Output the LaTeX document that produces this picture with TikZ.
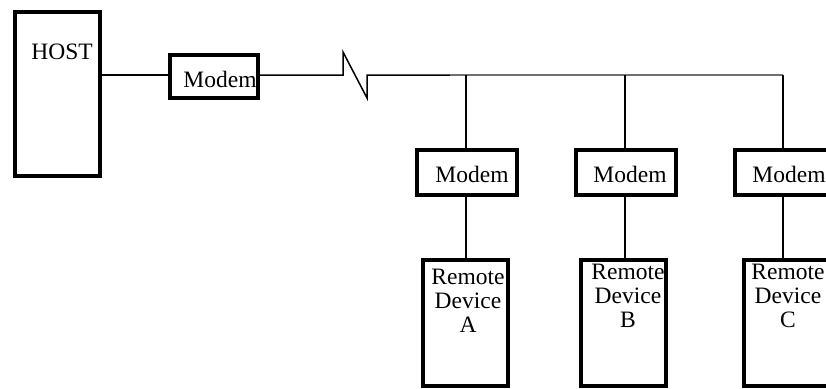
\documentclass[tikz,border=0pt]{standalone}
\usepackage{fontspec}
\setmainfont{Liberation Serif}
\usepackage{tikz}
\usetikzlibrary{calc}
\definecolor{wiregray}{HTML}{707070}
\tikzset{
  wire/.style={draw=black, line width=1.5pt},
  busline/.style={draw=wiregray, line width=1.5pt},
  box/.style={
    draw=black,
    line width=4pt,
    inner sep=0pt
  },
  lbl/.style={
    font=\fontsize{23.5}{24}\selectfont,
    inner sep=0pt,
    align=center
  }
}

\begin{document}
\begin{tikzpicture}[x=1pt,y=-1pt]
  \path[use as bounding box] (0,0) rectangle (826,388);
  \clip (0,0) rectangle (826,388);

  \node[box, minimum width=85pt, minimum height=164pt] (host) at (57.5,94) {};
  \node[lbl] (hostlbl) at (62,52) {HOST};
  \node[box, minimum width=88pt, minimum height=43pt] (modem) at (214,76.5) {};
  \node[lbl] (modemlbl) at (220,79) {Modem};

  \node[box, minimum width=100pt, minimum height=45pt] (modemA) at (467,172.5) {};
  \node[box, minimum width=100pt, minimum height=45pt] (modemB) at (626,172.5) {};
  \node[box, minimum width=100pt, minimum height=45pt] (modemC) at (785,172.5) {};
  \node[lbl] (modemAlbl) at (472,174) {Modem};
  \node[lbl] (modemBlbl) at (630,174) {Modem};
  \node[lbl] (modemClbl) at (789,174) {Modem};

  \node[box, minimum width=85pt, minimum height=126pt] (devA) at (465.5,323) {};
  \node[box, minimum width=85pt, minimum height=126pt] (devB) at (623.5,323) {};
  \node[box, minimum width=85pt, minimum height=126pt] (devC) at (786,323) {};
  \node[lbl, anchor=north] (devAlbl) at (468,269) {Remote\\Device\\A};
  \node[lbl, anchor=north] (devBlbl) at (628,264) {Remote\\Device\\B};
  \node[lbl, anchor=north] (devClbl) at (788,264) {Remote\\Device\\C};

  % line break symbol and bus
  \coordinate (hostport) at (100,75);
  \coordinate (brkA) at (343,75);
  \coordinate (brkB) at (343,52);
  \coordinate (brkC) at (367,98);
  \coordinate (brkD) at (367,75);
  \coordinate (busW) at (450,75);
  \coordinate (busE) at (783,75);

  \draw[wire] (hostport) -- (modem.west |- hostport);
  \draw[wire] (modem.east |- brkA) -- (brkA) -- (brkB) -- (brkC) -- (brkD) -- (busW);
  \draw[busline] (busW) -- (busE);

  \draw[wire] (466,75) -- (466,150);
  \draw[wire] (625,75) -- (625,150);
  \draw[wire] (783,75) -- (783,150);
  \draw[wire] (466,195) -- (466,260);
  \draw[wire] (625,195) -- (625,260);
  \draw[wire] (783,195) -- (783,260);
\end{tikzpicture}
\end{document}
